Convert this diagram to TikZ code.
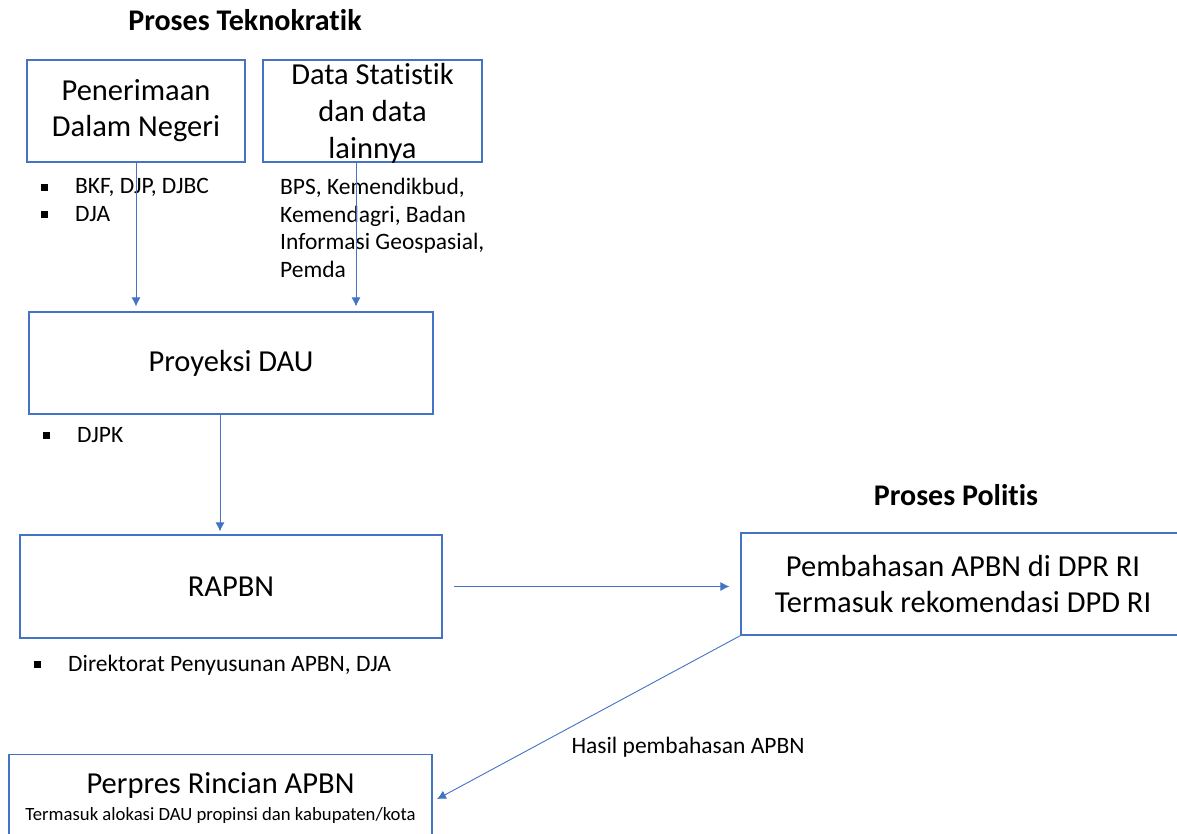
\documentclass[tikz,border=0pt]{standalone}
\usepackage{fontspec}
\setmainfont{Carlito}[Ligatures=NoCommon]
\usetikzlibrary{arrows.meta}
\definecolor{boxblue}{HTML}{4472C4}
\newcommand{\sqbul}{\makebox[34pt][l]{\rule[3pt]{7pt}{7pt}}}
\tikzset{
  kotak/.style={draw=boxblue, line width=1.2pt, align=center, inner sep=0pt,
    font=\fontsize{30.5}{36}\selectfont},
  daftar/.style={anchor=west, align=left, inner sep=0pt,
    font=\fontsize{23.5}{27.5}\selectfont},
  judul/.style={font=\fontsize{30}{34}\selectfont\bfseries},
  panah/.style={->, draw=boxblue, line width=0.9pt}
}
\begin{document}
\begin{tikzpicture}[x=1pt,y=-1pt,>={Latex[length=9pt,width=9pt]}]
\useasboundingbox (0,0) rectangle (1177,833);
\clip (0,0) rectangle (1177,833);
% judul
\node[judul] (tekno) at (245,20) {Proses Teknokratik};
\node[judul] (politis) at (956,495) {Proses Politis};
% kotak-kotak
\node[kotak, minimum width=218pt, minimum height=102pt] (pdn) at (136,111)
  {Penerimaan\\Dalam Negeri};
\node[kotak, minimum width=219pt, minimum height=102pt] (stat) at (372.5,111) {};
\node[font=\fontsize{30.5}{37}\selectfont, align=center] (stattext) at (372.5,113)
  {Data Statistik\\dan data\\lainnya};
\node[kotak, minimum width=404pt, minimum height=102pt] (dau) at (231,363) {Proyeksi DAU};
\node[kotak, minimum width=422pt, minimum height=103pt] (rapbn) at (231,586.5) {RAPBN};
\node[kotak, minimum width=444pt, minimum height=102pt] (dpr) at (963,584)
  {Pembahasan APBN di DPR RI\\Termasuk rekomendasi DPD RI};
\node[kotak, minimum width=423pt, minimum height=100pt, anchor=north] (perpres) at (220.5,754)
  {};
\node[font=\fontsize{30.5}{32}\selectfont] (perpres1) at (220.5,785) {Perpres Rincian APBN};
\node[font=\fontsize{18.7}{20}\selectfont] (perpres2) at (220.5,815)
  {Termasuk alokasi DAU propinsi dan kabupaten/kota};
% keterangan
\node[daftar] (ket1) at (41,200) {\sqbul BKF, DJP, DJBC\\\sqbul DJA};
\node[daftar] (ket2) at (280,228) {BPS, Kemendikbud,\\Kemendagri, Badan\\Informasi Geospasial,\\Pemda};
\node[daftar] (ket3) at (43,435) {\sqbul DJPK};
\node[daftar] (ket4) at (34,665) {\sqbul Direktorat Penyusunan APBN, DJA};
\node[font=\fontsize{23.5}{26}\selectfont] (hasil) at (688,747) {Hasil pembahasan APBN};
% panah
\draw[panah, shorten >=5pt] (pdn.south) -- (pdn.south |- dau.north);
\draw[panah, shorten >=5pt] ([xshift=-16.5pt]stat.south) -- ([xshift=-16.5pt]stat.south |- dau.north);
\draw[panah, shorten >=3pt] (dau.south -| 220,0) -- (rapbn.north -| 220,0);
\draw[panah, shorten <=11pt, shorten >=11pt] (rapbn.east) -- (rapbn.east -| dpr.west);
\draw[panah, shorten >=5pt] (dpr.south west) -- (perpres.north east |- perpres1.south);
\end{tikzpicture}
\end{document}
